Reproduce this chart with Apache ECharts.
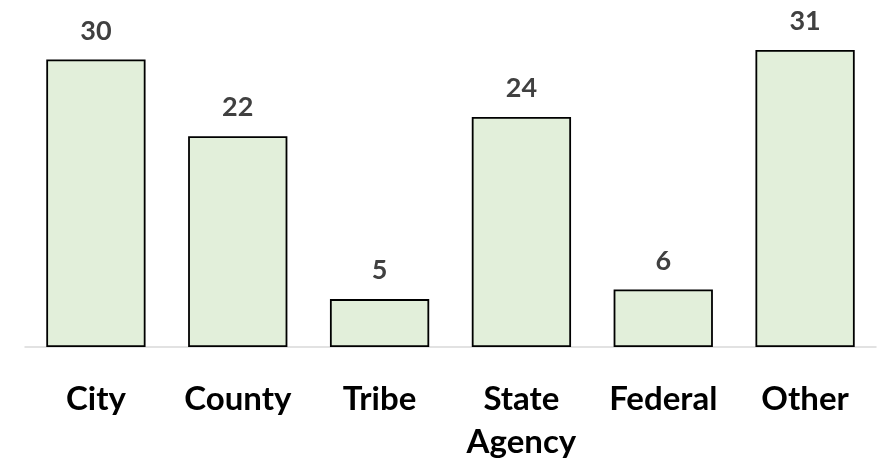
<!DOCTYPE html>
<html>
<head>
<meta charset="utf-8">
<script src="https://cdn.jsdelivr.net/npm/echarts@6/dist/echarts.min.js"></script>
<style>
  html, body { margin: 0; padding: 0; background: #fff; }
  #chart { width: 884px; height: 464px; }
</style>
</head>
<body>
<div id="chart"></div>
<script>
    // 数据
    var categories = ['City', 'County', 'Tribe', 'State\nAgency', 'Federal', 'Other'];
    var counts = [30, 22, 5, 24, 6, 31];

    var chart = echarts.init(document.getElementById('chart'));
    var option = {
        animation: false,
        grid: {
            left: 25,
            right: 8,
            top: 2,
            bottom: 117
        },
        xAxis: {
            type: 'category',
            data: categories,
            axisLine: {
                lineStyle: { color: '#d9d9d9', width: 1.5 }
            },
            axisTick: { show: false },
            axisLabel: {
                margin: 31,
                color: '#000',
                fontFamily: 'Lato',
                fontWeight: 'bold',
                fontSize: 33,
                lineHeight: 43,
                interval: 0
            }
        },
        yAxis: {
            type: 'value',
            min: 0,
            max: 36,
            show: false,
            splitLine: { show: false }
        },
        series: [
            {
                type: 'bar',
                data: counts,
                barCategoryGap: '30%',
                itemStyle: {
                    color: '#e2efda',
                    borderColor: '#000',
                    borderWidth: 1.8
                },
                label: {
                    show: true,
                    position: 'top',
                    distance: 15,
                    color: '#404040',
                    fontFamily: 'Lato',
                    fontWeight: 'bold',
                    fontSize: 27
                }
            }
        ]
    };
    chart.setOption(option);
</script>
</body>
</html>
